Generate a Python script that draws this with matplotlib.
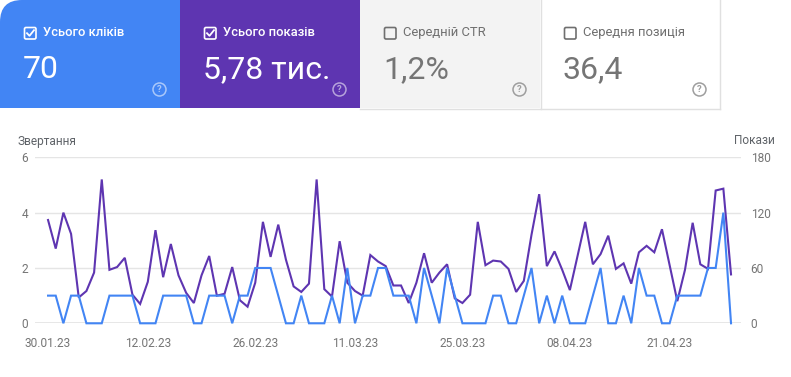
import numpy as np
import pandas as pd
import matplotlib
matplotlib.use("Agg")
import matplotlib.pyplot as plt
from matplotlib.patches import FancyBboxPatch, Rectangle, Circle
from matplotlib.lines import Line2D
from matplotlib.transforms import Affine2D

# ---------------- data ----------------
start_date = "2023-01-30"
clicks = [1, 1, 0, 1, 1, 0, 0, 0, 1, 1,
          1, 1, 0, 0, 0, 1, 1, 1, 1, 0,
          0, 1, 1, 1, 0, 1, 1, 2, 2, 2,
          1, 0, 0, 1, 0, 0, 0, 1, 0, 2,
          0, 1, 1, 2, 2, 1, 1, 1, 0, 2,
          1, 0, 2, 1, 0, 0, 0, 0, 1, 1,
          0, 0, 1, 2, 0, 1, 0, 1, 0, 0,
          0, 1, 2, 0, 0, 1, 0, 2, 1, 1,
          0, 0, 1, 1, 1, 1, 2, 2, 4, 0]
impressions = [112, 81, 120, 97, 28, 35, 55, 156, 58, 61,
               71, 31, 21, 45, 101, 50, 86, 52, 33, 22,
               52, 73, 30, 32, 61, 25, 18, 44, 110, 72,
               107, 69, 40, 34, 43, 156, 37, 29, 89, 44,
               35, 30, 74, 67, 62, 41, 41, 22, 44, 76,
               44, 55, 64, 27, 22, 31, 110, 63, 68, 67,
               59, 34, 46, 96, 140, 62, 78, 58, 36, 73,
               110, 64, 75, 95, 59, 65, 43, 77, 84, 77,
               102, 63, 24, 58, 109, 64, 59, 144, 146, 53]
tick_dates = ["2023-01-30", "2023-02-12", "2023-02-26", "2023-03-11",
              "2023-03-25", "2023-04-08", "2023-04-21"]
tick_labels = ["30.01.23", "12.02.23", "26.02.23", "11.03.23",
               "25.03.23", "08.04.23", "21.04.23"]
left_ticks = [0, 2, 4, 6]
right_ticks = [0, 60, 120, 180]

card_labels = ["Усього кліків", "Усього показів", "Середній CTR", "Середня позиція"]
card_values = ["70", "5,78 тис.", "1,2%", "36,4"]
card_checked = [True, True, False, False]

dates = pd.date_range(start_date, periods=len(clicks), freq="D")

# ---------------- figure ----------------
W, H = 791, 377
plt.rcParams['font.family'] = ['Roboto', 'DejaVu Sans']
fig = plt.figure(figsize=(W / 100, H / 100), dpi=100)
fig.patch.set_facecolor("white")

# pixel (from top-left) transform
px = Affine2D().scale(1 / W, -1 / H).translate(0, 1) + fig.transFigure

BLUE = "#4285f4"
PURPLE = "#5e35b1"
GREY_TXT = "#757575"

# ---- cards ----
card_bg = [BLUE, PURPLE, "#f3f3f3", "#ffffff"]
card_w, card_h = 180, 108
for k in range(4):
    x0 = 180 * k
    if k == 0:
        fig.add_artist(FancyBboxPatch((x0, 0), card_w, card_h,
                                      boxstyle="round,pad=0,rounding_size=22",
                                      transform=px, facecolor=card_bg[k],
                                      edgecolor="none", zorder=1))
        fig.add_artist(Rectangle((x0 + 30, 0), card_w - 30, card_h, transform=px,
                                 facecolor=card_bg[k], edgecolor="none", zorder=1))
        fig.add_artist(Rectangle((x0, 30), card_w, card_h - 30, transform=px,
                                 facecolor=card_bg[k], edgecolor="none", zorder=1))
    else:
        fig.add_artist(Rectangle((x0, 0), card_w, card_h, transform=px,
                                 facecolor=card_bg[k], edgecolor="none", zorder=1))
# borders for unchecked cards
fig.add_artist(Line2D([360, 720], [108.5, 108.5], transform=px, color="#e0e0e0", lw=1, zorder=2))
fig.add_artist(Line2D([540.5, 540.5], [0, 108.5], transform=px, color="#e0e0e0", lw=1, zorder=2))
fig.add_artist(Line2D([719.5, 719.5], [0, 108.5], transform=px, color="#e0e0e0", lw=1, zorder=2))

for k in range(4):
    x0 = 180 * k
    checked = card_checked[k]
    fg = "white" if checked else GREY_TXT
    box_col = "white" if checked else "#6f6f6f"
    # checkbox
    fig.add_artist(FancyBboxPatch((x0 + 24.5, 27.5), 11.5, 11.5,
                                  boxstyle="round,pad=0,rounding_size=1.5",
                                  transform=px, facecolor="none",
                                  edgecolor=box_col, lw=1.2, zorder=3))
    if checked:
        fig.add_artist(Line2D([x0 + 27, x0 + 29.5, x0 + 34], [33.2, 35.8, 30.2],
                              transform=px, color="white", lw=1.3, zorder=4))
    fig.text((x0 + 43) / W, 1 - 36 / H, card_labels[k], color=fg if checked else "#6f6f6f",
             fontsize=9.4, fontweight="medium" if checked else "normal",
             ha="left", va="baseline", zorder=4)
    fig.text((x0 + 23) / W, 1 - 78 / H, card_values[k], color=fg,
             fontsize=23, ha="left", va="baseline", zorder=4)
    # help icon
    icon_col = (1, 1, 1, 0.55) if checked else "#9e9e9e"
    fig.add_artist(Circle((x0 + 159.5, 89.5), 6.5, transform=px, facecolor="none",
                          edgecolor=icon_col, lw=1.1, zorder=4))
    fig.text((x0 + 159.5) / W, 1 - 89.5 / H, "?", color=icon_col, fontsize=6.8,
             fontweight="bold", ha="center", va="center", zorder=5)

# ---- chart ----
ax_l, ax_r = 35, 741
ax_b, ax_t = 323.3, 157.3
ax = fig.add_axes([ax_l / W, 1 - ax_b / H, (ax_r - ax_l) / W, (ax_b - ax_t) / H])
ax2 = ax.twinx()
ax.set_zorder(ax2.get_zorder() + 1)
ax.patch.set_visible(False)

ax2.plot(dates, impressions, color=PURPLE, lw=1.5, solid_joinstyle="miter", clip_on=False)
ax.plot(dates, clicks, color=BLUE, lw=1.5, solid_joinstyle="miter", clip_on=False)

ax.set_xlim(dates[0] - pd.Timedelta(days=1.7), dates[-1] + pd.Timedelta(days=1.3))
ax.set_ylim(0, 6)
ax2.set_ylim(0, 180)
ax.set_yticks(left_ticks)
ax2.set_yticks(right_ticks)
ax.set_xticks(pd.to_datetime(tick_dates))
ax.set_xticklabels(tick_labels)

for a in (ax, ax2):
    for s in a.spines.values():
        s.set_visible(False)
ax.tick_params(axis="y", length=0, pad=5, labelsize=8.6, labelcolor=GREY_TXT)
ax2.tick_params(axis="y", length=0, pad=7, labelsize=8.6, labelcolor=GREY_TXT)
ax.tick_params(axis="x", length=0, pad=10, labelsize=8.6, labelcolor=GREY_TXT)

ax2.yaxis.grid(True, color="#e5e5e5", lw=1)
ax2.set_axisbelow(True)
ax2.axhline(0, color="#9e9e9e", lw=1, zorder=1)

fig.text(17 / W, 1 - 141 / H, "Звертання", color="#5f6368", fontsize=8.6,
         ha="left", va="center")
fig.text(775 / W, 1 - 141 / H, "Покази", color="#5f6368", fontsize=8.6,
         ha="right", va="center")

fig.savefig("out.png", dpi=100)
